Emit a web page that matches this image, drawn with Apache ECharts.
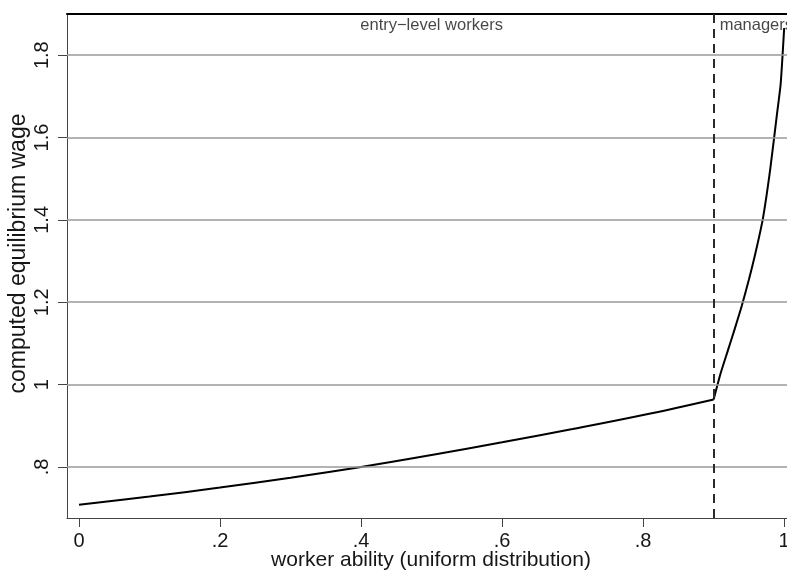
<!DOCTYPE html>
<html>
<head>
<meta charset="utf-8">
<script src="https://cdn.jsdelivr.net/npm/echarts@6/dist/echarts.min.js"></script>
<style>
  html, body { margin: 0; padding: 0; background: #fff; }
  #chart { width: 787px; height: 571px; }
</style>
</head>
<body>
<div id="chart"></div>
<script>
// Worker ability on a uniform grid, split at the manager threshold.
const abilityEntry = [0, 0.1, 0.2, 0.3, 0.4, 0.5, 0.6, 0.7, 0.8, 0.9];
const wageEntry    = [0.708, 0.728, 0.750, 0.774, 0.800, 0.829, 0.860, 0.892, 0.926, 0.964];

const abilityManager = [0.90, 0.91, 0.92, 0.93, 0.94, 0.95, 0.96, 0.97, 0.98, 0.99, 0.995, 1.00];
const wageManager    = [0.964, 1.028, 1.082, 1.136, 1.192, 1.255, 1.325, 1.405, 1.520, 1.660, 1.730, 1.866];

const managerCutoff = 0.9;

const xTicks = [0, 0.2, 0.4, 0.6, 0.8, 1];
const yTicks = [0.8, 1, 1.2, 1.4, 1.6, 1.8];

const regionLabels = [
  { x: 0.5, y: 1.871, text: 'entry\u2212level workers', side: 'center' },
  { x: 0.9, y: 1.871, text: 'managers', side: 'left' }
];

const FONT = '"Liberation Sans", Arial, Helvetica, sans-serif';
const INK = '#161616';

function fmt(v) {
  if (v === 0) return '0';
  return String(Math.round(v * 10) / 10).replace(/^0\./, '.');
}

const chart = echarts.init(document.getElementById('chart'), null, { renderer: 'canvas' });

chart.setOption({
  animation: false,
  backgroundColor: '#fff',
  grid: { left: 67, top: 14, bottom: 53, right: 0, show: false, outerBoundsMode: 'none' },
  xAxis: [
    {
      type: 'value',
      min: -0.017, max: 1.004,
      name: 'worker ability (uniform distribution)',
      nameLocation: 'middle',
      nameGap: 32,
      nameMoveOverlap: false,
      nameTextStyle: { fontFamily: FONT, fontSize: 21, color: INK, padding: [0, 0, 0, 8] },
      axisLine: { show: true, onZero: false, lineStyle: { color: '#444', width: 1 } },
      axisTick: { show: true, length: 9, customValues: xTicks, lineStyle: { color: '#444' } },
      axisLabel: {
        customValues: xTicks, margin: 13, formatter: fmt,
        fontFamily: FONT, fontSize: 20, color: INK
      },
      splitLine: { show: false }
    },
    {
      // plain frame line along the top of the plot area
      type: 'value',
      position: 'top',
      min: -0.017, max: 1.004,
      axisLine: { show: true, onZero: false, lineStyle: { color: '#000', width: 2 } },
      axisTick: { show: false },
      axisLabel: { show: false },
      splitLine: { show: false }
    }
  ],
  yAxis: {
    type: 'value',
    min: 0.676, max: 1.9,
    name: 'computed equilibrium wage',
    nameLocation: 'middle',
    nameGap: 37,
    nameMoveOverlap: false,
    nameTextStyle: { fontFamily: FONT, fontSize: 23, color: INK, padding: [0, 0, 0, 25] },
    axisLine: { show: true, onZero: false, lineStyle: { color: '#444', width: 1 } },
    axisTick: { show: true, length: 9, customValues: yTicks, lineStyle: { color: '#444' } },
    axisLabel: {
      customValues: yTicks, rotate: 90, margin: 15, formatter: fmt,
      fontFamily: FONT, fontSize: 20, color: INK
    },
    splitLine: { show: false }
  },
  series: [
    {
      // horizontal reference lines at the labelled wage levels
      name: 'gridlines',
      type: 'line',
      data: [],
      z: 1,
      silent: true,
      markLine: {
        silent: true,
        symbol: 'none',
        label: { show: false },
        lineStyle: { type: 'solid', color: '#9a9a9a', width: 1.6 },
        data: yTicks.map(v => ({ yAxis: v }))
      }
    },
    {
      name: 'entry-level',
      type: 'line',
      z: 3,
      smooth: 0.4,
      showSymbol: false,
      lineStyle: { color: '#000', width: 2 },
      data: abilityEntry.map((x, i) => [x, wageEntry[i]]),
      markLine: {
        silent: true,
        symbol: 'none',
        label: { show: false },
        lineStyle: { type: [9, 6], color: '#2a2a2a', width: 2 },
        data: [{ xAxis: managerCutoff }]
      }
    },
    {
      name: 'managers',
      type: 'line',
      z: 3,
      smooth: 0.2,
      showSymbol: false,
      lineStyle: { color: '#000', width: 2 },
      data: abilityManager.map((x, i) => [x, wageManager[i]])
    },
    {
      name: 'region labels',
      type: 'scatter',
      z: 4,
      silent: true,
      symbolSize: 0,
      data: regionLabels.map(d => ({
        value: [d.x, d.y],
        label: d.side === 'center'
          ? { show: true, position: 'inside', align: 'center', formatter: d.text }
          : { show: true, position: 'right', distance: 6, align: 'left', formatter: d.text }
      })),
      label: { fontFamily: FONT, fontSize: 16.5, color: INK }
    }
  ]
});
</script>
</body>
</html>
